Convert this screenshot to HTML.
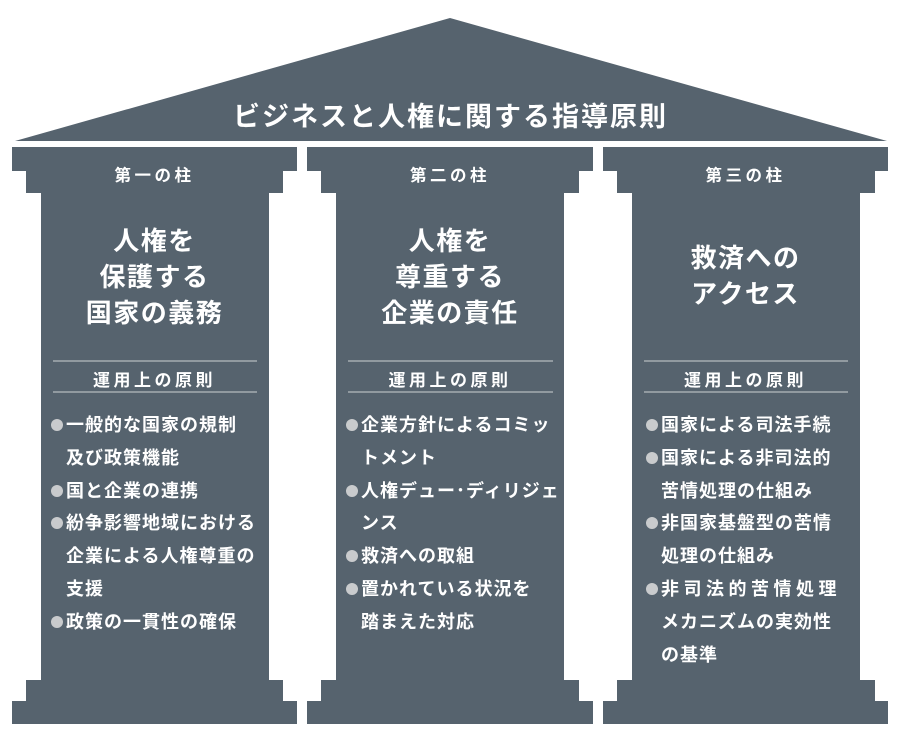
<!DOCTYPE html>
<html><head><meta charset="utf-8"><style>
body{margin:0;width:901px;height:748px;background:#fff;overflow:hidden;position:relative;font-family:"Liberation Sans","Noto Sans CJK JP",sans-serif;color:#fff}
.t{position:absolute;white-space:nowrap;font-weight:bold}
.c{text-align:center}
.it{position:absolute;white-space:nowrap;font-weight:bold;font-size:18px;line-height:32.8px;letter-spacing:1px}
.b{display:inline-block;width:12px;height:12px;border-radius:50%;background:#c9cbcd;margin-right:3px;vertical-align:0px}
.in{padding-left:15px}
</style></head><body>
<svg width="901" height="748" style="position:absolute;left:0;top:0">
<g fill="#56636e">
<polygon points="15,141 450,18 887,141"/>
<path d="M12,147H297V171H283V193H269V680H283V701H297V724H12V701H26V680H41V193H26V171H12Z"/>
<path d="M307,147H593V171H579V193H564V680H579V701H593V724H307V701H321V680H336V193H321V171H307Z"/>
<path d="M603,147H888V171H875V193H860V680H875V701H888V724H603V701H617V680H632V193H617V171H603Z"/>
</g>
<g stroke="#b5babf" stroke-width="1.3">
<line x1="53" y1="361" x2="257" y2="361"/><line x1="53" y1="392" x2="257" y2="392"/>
<line x1="348" y1="361" x2="553" y2="361"/><line x1="348" y1="392" x2="553" y2="392"/>
<line x1="644" y1="361" x2="848" y2="361"/><line x1="644" y1="392" x2="848" y2="392"/>
</g>
</svg>
<div class="t c" style="left:0;width:901px;top:95px;font-size:27px;letter-spacing:2px">ビジネスと人権に関する指導原則</div>

<div class="t c" style="left:12px;width:285px;top:162px;font-size:16.5px;letter-spacing:3.5px">第一の柱</div>
<div class="t c" style="left:307px;width:286px;top:162px;font-size:16.5px;letter-spacing:3.5px">第二の柱</div>
<div class="t c" style="left:603px;width:285px;top:162px;font-size:16.5px;letter-spacing:3.5px">第三の柱</div>

<div class="t c" style="left:12px;width:285px;top:223px;font-size:26px;line-height:36px;letter-spacing:1.5px">人権を<br>保護する<br>国家の義務</div>
<div class="t c" style="left:307px;width:286px;top:223px;font-size:26px;line-height:36px;letter-spacing:1.5px">人権を<br>尊重する<br>企業の責任</div>
<div class="t c" style="left:603px;width:285px;top:240px;font-size:26px;line-height:36px;letter-spacing:1.5px">救済への<br>アクセス</div>

<div class="t c" style="left:12px;width:285px;top:366px;font-size:17px;letter-spacing:3.5px">運用上の原則</div>
<div class="t c" style="left:307px;width:286px;top:366px;font-size:17px;letter-spacing:3.5px">運用上の原則</div>
<div class="t c" style="left:603px;width:285px;top:366px;font-size:17px;letter-spacing:3.5px">運用上の原則</div>

<div class="it" style="left:51px;top:409px"><span class="b"></span>一般的な国家の規制<br><span class="in">及び政策機能</span><br><span class="b"></span>国と企業の連携<br><span class="b"></span>紛争影響地域における<br><span class="in">企業による人権尊重の</span><br><span class="in">支援</span><br><span class="b"></span>政策の一貫性の確保</div>

<div class="it" style="left:346px;top:409px"><span class="b"></span>企業方針によるコミッ<br><span class="in">トメント</span><br><span class="b"></span>人権デュー･ディリジェ<br><span class="in">ンス</span><br><span class="b"></span>救済への取組<br><span class="b"></span>置かれている状況を<br><span class="in">踏まえた対応</span></div>

<div class="it" style="left:646px;top:409px"><span class="b"></span>国家による司法手続<br><span class="b"></span>国家による非司法的<br><span class="in">苦情処理の仕組み</span><br><span class="b"></span>非国家基盤型の苦情<br><span class="in">処理の仕組み</span><br><span class="b"></span><span style="letter-spacing:4.5px">非司法的苦情処理</span><br><span class="in">メカニズムの実効性</span><br><span class="in">の基準</span></div>
</body></html>
